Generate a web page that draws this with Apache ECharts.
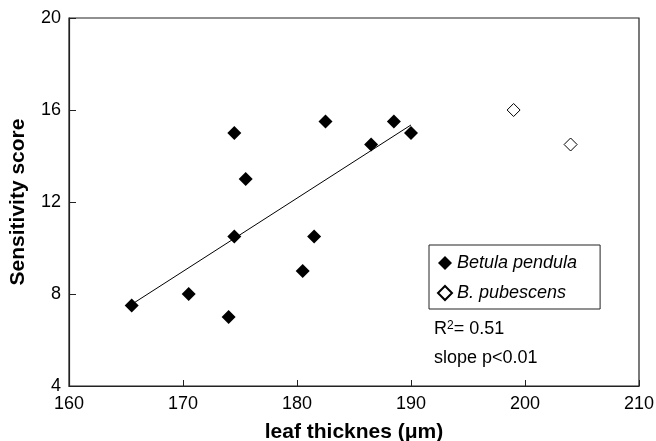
<!DOCTYPE html>
<html>
<head>
<meta charset="utf-8">
<script src="https://cdn.jsdelivr.net/npm/echarts@6/dist/echarts.min.js"></script>
<style>html,body{margin:0;padding:0;background:#fff}#c{width:656px;height:441px}</style>
</head>
<body>
<div id="c"></div>
<script>
// Data
const pendulaX = [165.5, 170.5, 174.0, 174.5, 175.5, 174.5, 180.5, 181.5, 182.5, 186.5, 188.5, 190.0];
const pendulaY = [7.5, 8.0, 7.0, 15.0, 13.0, 10.5, 9.0, 10.5, 15.5, 14.5, 15.5, 15.0];
const pubescensX = [199.0, 204.0];
const pubescensY = [16.0, 14.5];
const trendX = [165.5, 190.0];
const trendY = [7.55, 15.35];
const seriesNames = ['Betula pendula', 'B. pubescens'];
const xTicks = [160, 170, 180, 190, 200, 210];
const yTicks = [4, 8, 12, 16, 20];
const xTitle = 'leaf thicknes (\u03bcm)';
const yTitle = 'Sensitivity score';
const statR2 = '0.51';
const statSlope = 'slope p<0.01';

const zip = (a, b) => a.map((v, i) => [v, b[i]]);
const FONT = 'Liberation Sans, Arial, sans-serif';

const chart = echarts.init(document.getElementById('c'), null, {renderer: 'canvas'});
chart.setOption({
  animation: false,
  backgroundColor: '#fff',
  grid: {left: 69, right: 17, top: 18, bottom: 55, containLabel: false, outerBoundsMode: 'none',
         show: true, borderColor: '#222', borderWidth: 1.2, backgroundColor: 'transparent'},
  xAxis: {
    type: 'value', min: xTicks[0], max: xTicks[xTicks.length - 1], interval: 10,
    name: xTitle, nameLocation: 'middle', nameGap: 36,
    nameTextStyle: {fontFamily: FONT, fontSize: 21, fontWeight: 'bold', color: '#000'},
    axisLine: {show: true, lineStyle: {color: '#222', width: 1.2}},
    axisTick: {show: true, inside: true, length: 6, lineStyle: {color: '#222'}},
    axisLabel: {fontFamily: FONT, fontSize: 18, color: '#000', margin: 9},
    splitLine: {show: false}
  },
  yAxis: {
    type: 'value', min: yTicks[0], max: yTicks[yTicks.length - 1], interval: 4,
    name: yTitle, nameLocation: 'middle', nameGap: 40, nameRotate: 90,
    nameTextStyle: {fontFamily: FONT, fontSize: 21, fontWeight: 'bold', color: '#000'},
    axisLine: {show: true, lineStyle: {color: '#222', width: 1.2}},
    axisTick: {show: true, inside: true, length: 7, lineStyle: {color: '#222'}},
    axisLabel: {fontFamily: FONT, fontSize: 18, color: '#000', margin: 8},
    splitLine: {show: false}
  },
  legend: {
    data: seriesNames,
    orient: 'vertical',
    left: 429, top: 245,
    padding: [9, 23, 7, 8],
    itemGap: 12,
    itemWidth: 14, itemHeight: 14,
    icon: 'diamond',
    borderColor: '#222', borderWidth: 1,
    backgroundColor: '#fff',
    textStyle: {fontFamily: FONT, fontSize: 18, fontStyle: 'italic', color: '#000'}
  },
  series: [
    {
      name: 'trend', type: 'line', data: zip(trendX, trendY), showSymbol: false, symbol: 'none',
      lineStyle: {color: '#000', width: 1}, silent: true, z: 1
    },
    {
      name: seriesNames[0], type: 'scatter', data: zip(pendulaX, pendulaY),
      symbol: 'diamond', symbolSize: 14,
      itemStyle: {color: '#000', opacity: 1}, z: 3
    },
    {
      name: seriesNames[1], type: 'scatter', data: zip(pubescensX, pubescensY),
      symbol: 'diamond', symbolSize: 13,
      itemStyle: {color: '#fff', borderColor: '#000', borderWidth: 1, opacity: 1}, z: 3
    }
  ],
  graphic: [
    {
      type: 'text', left: 434, top: 320,
      style: {
        text: 'R{sup|2}= ' + statR2,
        fontFamily: FONT, fontSize: 18, fill: '#000',
        rich: {sup: {fontFamily: FONT, fontSize: 12, verticalAlign: 'top', padding: [0, 0, 6, 0]}}
      }
    },
    {
      type: 'text', left: 434, top: 349,
      style: {text: statSlope, fontFamily: FONT, fontSize: 18, fill: '#000'}
    }
  ]
});
</script>
</body>
</html>
